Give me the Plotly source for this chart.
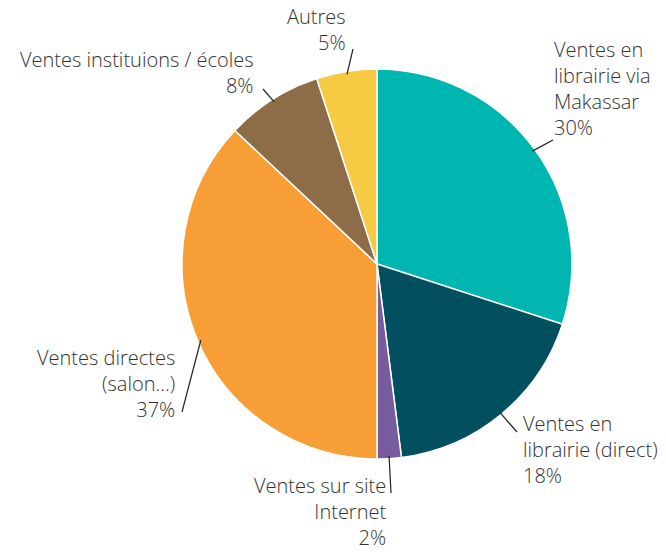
import math
import plotly.graph_objects as go

# ---- data ----
categories = [
    "Ventes en<br>librairie via<br>Makassar",
    "Ventes en<br>librairie (direct)",
    "Ventes sur site<br>Internet",
    "Ventes directes<br>(salon…)",
    "Ventes instituions / écoles",
    "Autres",
]
values = [30, 18, 2, 37, 8, 5]
colors = ["#00B6B1", "#02505F", "#775C9D", "#F79F36", "#8D6C48", "#F6CA42"]

# ---- layout / style ----
W, H = 666, 552
CX, CY, R = 377, 264, 195  # pie centre and radius in pixels
FONT = "Open Sans"
TXT = "#333333"

# label placement (pixel anchor, alignment) and leader-line tail points
label_style = [
    dict(x=552, y=89, xanchor="left", align="left", tail=(553, 140)),
    dict(x=521, y=449, xanchor="left", align="left", tail=(517, 432)),
    dict(x=388, y=511, xanchor="right", align="right", tail=(391, 493)),
    dict(x=177, y=383, xanchor="right", align="right", tail=(182, 412)),
    dict(x=256, y=72, xanchor="right", align="right", tail=(263, 89)),
    dict(x=348, y=29, xanchor="right", align="right", tail=(353, 49)),
]


def px(x):
    return x / W


def py(y):
    return 1 - y / H


fig = go.Figure(
    go.Pie(
        labels=categories,
        values=values,
        sort=False,
        direction="clockwise",
        rotation=0,
        marker=dict(colors=colors, line=dict(color="white", width=1.5)),
        textinfo="none",
        hoverinfo="label+percent",
        showlegend=False,
        domain=dict(x=[px(CX - R), px(CX + R)], y=[py(CY + R), py(CY - R)]),
    )
)

total = sum(values)
cum = 0
annotations = []
shapes = []
for lab, v, st in zip(categories, values, label_style):
    mid = (cum + v / 2) / total * 2 * math.pi
    cum += v
    sx = CX + (R - 3) * math.sin(mid)
    sy = CY - (R - 3) * math.cos(mid)
    tx, ty = st["tail"]
    shapes.append(dict(type="line", xref="paper", yref="paper",
                       x0=px(sx), y0=py(sy), x1=px(tx), y1=py(ty),
                       line=dict(color="#222222", width=1.2)))
    pct = round(v / total * 100)
    annotations.append(dict(
        text=f"{lab}<br>{pct}%", x=px(st["x"]), y=py(st["y"]),
        xref="paper", yref="paper", xanchor=st["xanchor"], yanchor="middle",
        align=st["align"], showarrow=False,
        font=dict(family=FONT, size=20, color=TXT, weight=300),
    ))

fig.update_layout(
    width=W, height=H,
    margin=dict(l=0, r=0, t=0, b=0),
    paper_bgcolor="white", plot_bgcolor="white",
    annotations=annotations, shapes=shapes,
)

fig.write_html("out.html", config={"displayModeBar": False},
               post_script="document.body.style.margin='0';")
